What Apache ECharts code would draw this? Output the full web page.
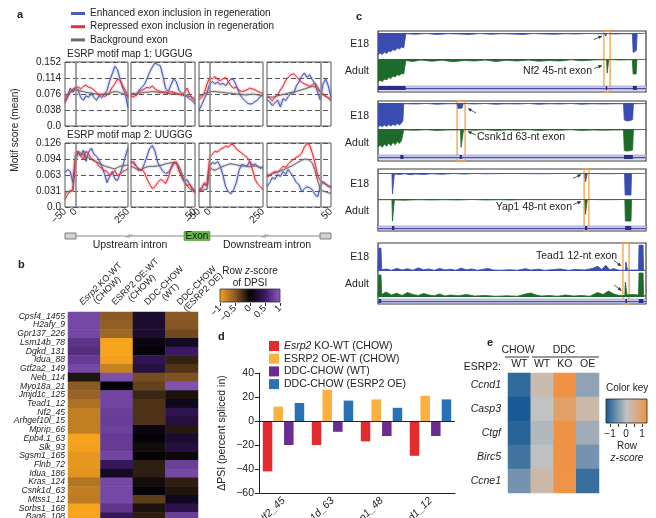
<!DOCTYPE html>
<html><head><meta charset="utf-8">
<script src="https://cdn.jsdelivr.net/npm/echarts@6/dist/echarts.min.js"></script>
<style>html,body{margin:0;padding:0;background:#fff}#c{width:656px;height:518px}</style>
</head><body><div id="c"></div>
<script>
// ================= DATA =================
// ---- panel a: motif maps (sampled positions, nt) ----
const posA = [-50,-37.5,-25,-12.5,0,12.5,25,37.5,50,62.5,75,87.5,100,112.5,125,137.5,150,162.5,175,187.5,200,212.5,225,237.5,250];
const posB = [-250,-237.5,-225,-212.5,-200,-187.5,-175,-162.5,-150,-137.5,-125,-112.5,-100,-87.5,-75,-62.5,-50,-37.5,-25,-12.5,0,12.5,25,37.5,50];
const aNames = ['Enhanced exon inclusion in regeneration','Repressed exon inclusion in regeneration','Background exon'];
// map 1 (UGGUG)
const m1p1Blue = [0.061,0.072,0.090,0.080,0.093,0.084,0.068,0.061,0.072,0.068,0.078,0.068,0.061,0.072,0.067,0.076,0.085,0.107,0.124,0.142,0.134,0.111,0.090,0.076,0.043];
const m1p1Red  = [0.055,0.068,0.080,0.088,0.090,0.093,0.088,0.094,0.097,0.092,0.090,0.086,0.080,0.072,0.075,0.070,0.073,0.080,0.092,0.100,0.112,0.108,0.095,0.085,0.070];
const m1p1Gray = [0.070,0.075,0.080,0.084,0.086,0.085,0.083,0.082,0.080,0.079,0.078,0.077,0.076,0.076,0.075,0.076,0.077,0.078,0.080,0.082,0.081,0.079,0.077,0.074,0.070];
const m1p2Blue = [0.075,0.078,0.072,0.085,0.092,0.098,0.112,0.128,0.140,0.150,0.146,0.143,0.118,0.088,0.082,0.098,0.112,0.105,0.085,0.077,0.072,0.070,0.064,0.060,0.052];
const m1p2Red  = [0.072,0.068,0.076,0.082,0.085,0.088,0.092,0.090,0.095,0.088,0.084,0.082,0.080,0.081,0.079,0.082,0.080,0.078,0.076,0.074,0.080,0.090,0.075,0.065,0.058];
const m1p2Gray = [0.076,0.075,0.077,0.078,0.079,0.080,0.080,0.081,0.082,0.081,0.080,0.079,0.080,0.078,0.077,0.076,0.077,0.076,0.075,0.074,0.073,0.072,0.070,0.068,0.064];
const m1p3Blue = [0.038,0.050,0.065,0.078,0.100,0.106,0.100,0.104,0.098,0.102,0.095,0.105,0.112,0.110,0.096,0.080,0.068,0.062,0.055,0.052,0.053,0.058,0.062,0.070,0.074];
const m1p3Red  = [0.062,0.068,0.078,0.100,0.115,0.112,0.118,0.110,0.108,0.112,0.115,0.105,0.095,0.090,0.092,0.085,0.082,0.083,0.086,0.090,0.088,0.086,0.082,0.080,0.076];
const m1p3Gray = [0.070,0.073,0.076,0.079,0.081,0.082,0.082,0.081,0.080,0.080,0.079,0.078,0.078,0.077,0.076,0.075,0.075,0.074,0.074,0.075,0.076,0.075,0.074,0.073,0.072];
const m1p4Blue = [0.062,0.058,0.048,0.055,0.062,0.045,0.065,0.060,0.070,0.080,0.078,0.095,0.105,0.118,0.126,0.115,0.122,0.110,0.100,0.080,0.062,0.100,0.112,0.095,0.068];
const m1p4Red  = [0.070,0.066,0.060,0.068,0.075,0.085,0.095,0.108,0.116,0.122,0.124,0.118,0.110,0.104,0.100,0.098,0.094,0.098,0.102,0.092,0.082,0.076,0.072,0.066,0.060];
const m1p4Gray = [0.070,0.069,0.068,0.070,0.072,0.073,0.075,0.076,0.078,0.079,0.080,0.082,0.084,0.086,0.088,0.090,0.092,0.094,0.093,0.088,0.080,0.074,0.070,0.067,0.064];
// map 2 (UUGGG)
const m2p1Blue = [0.068,0.074,0.070,0.048,0.092,0.108,0.100,0.112,0.090,0.108,0.116,0.104,0.100,0.092,0.080,0.066,0.048,0.060,0.070,0.055,0.052,0.066,0.080,0.100,0.116];
const m2p1Red  = [0.015,0.025,0.030,0.032,0.095,0.108,0.100,0.094,0.110,0.104,0.096,0.092,0.088,0.080,0.076,0.072,0.070,0.062,0.066,0.072,0.062,0.064,0.070,0.072,0.076];
const m2p1Gray = [0.025,0.030,0.032,0.034,0.108,0.110,0.106,0.102,0.100,0.097,0.094,0.091,0.089,0.086,0.083,0.081,0.079,0.078,0.076,0.075,0.078,0.080,0.081,0.082,0.083];
const m2p2Blue = [0.090,0.085,0.080,0.075,0.072,0.085,0.100,0.115,0.121,0.110,0.088,0.078,0.070,0.066,0.068,0.075,0.085,0.088,0.072,0.060,0.050,0.054,0.045,0.038,0.030];
const m2p2Red  = [0.086,0.090,0.080,0.072,0.074,0.068,0.055,0.045,0.036,0.040,0.048,0.054,0.052,0.046,0.058,0.078,0.088,0.088,0.072,0.060,0.050,0.042,0.045,0.034,0.028];
const m2p2Gray = [0.080,0.078,0.075,0.072,0.074,0.077,0.079,0.080,0.080,0.080,0.081,0.082,0.083,0.085,0.086,0.087,0.088,0.087,0.080,0.068,0.050,0.042,0.036,0.032,0.030];
const m2p3Blue = [0.034,0.038,0.045,0.042,0.080,0.088,0.085,0.090,0.080,0.062,0.040,0.030,0.026,0.034,0.048,0.072,0.084,0.082,0.080,0.090,0.082,0.085,0.080,0.076,0.080];
const m2p3Red  = [0.030,0.036,0.048,0.042,0.098,0.104,0.110,0.108,0.114,0.116,0.120,0.118,0.124,0.122,0.114,0.110,0.106,0.102,0.098,0.090,0.075,0.055,0.045,0.040,0.034];
const m2p3Gray = [0.032,0.033,0.034,0.035,0.078,0.074,0.072,0.075,0.078,0.080,0.082,0.084,0.085,0.084,0.083,0.082,0.080,0.081,0.080,0.079,0.080,0.081,0.080,0.078,0.076];
const m2p4Blue = [0.040,0.048,0.058,0.055,0.064,0.060,0.070,0.064,0.074,0.066,0.058,0.048,0.044,0.030,0.036,0.040,0.038,0.034,0.024,0.020,0.040,0.050,0.046,0.042,0.040];
const m2p4Red  = [0.058,0.062,0.066,0.070,0.068,0.074,0.080,0.078,0.085,0.090,0.094,0.098,0.100,0.106,0.118,0.125,0.122,0.106,0.086,0.062,0.052,0.048,0.044,0.040,0.038];
const m2p4Gray = [0.062,0.064,0.066,0.067,0.069,0.071,0.073,0.075,0.078,0.080,0.083,0.086,0.089,0.092,0.094,0.094,0.092,0.086,0.072,0.052,0.036,0.031,0.030,0.028,0.027];
const aYLabels1 = ['0.0','0.038','0.076','0.114','0.152'];
const aYLabels2 = ['0.0','0.031','0.063','0.094','0.126'];

// ---- panel b: row z-score of DPSI ----
const bRows = ['Cpsf4_1455','H2afy_9','Gpr137_226','Lsm14b_78','Dgkd_131','Idua_88','Gtf2a2_149','Neb_114','Myo18a_21','Jmjd1c_125','Tead1_12','Nf2_45','Arhgef10l_15','Mprip_66','Epb4.1_63','Slk_93','Sgsm1_165','Flnb_72','Idua_186','Kras_124','Csnk1d_63','Mtss1_12','Sorbs1_168','Bag6_108'];
const bCols = ['Esrp2 KO-WT\n(CHOW)','ESRP2 OE-WT\n(CHOW)','DDC-CHOW\n(WT)','DDC-CHOW\n(ESRP2 OE)'];
const bKO    = [0.85,0.85,0.85,0.7,0.65,0.75,0.85,-0.1,-0.5,-0.55,-0.65,-0.75,-0.75,-0.75,-1,-0.98,-0.92,-0.92,-0.9,-0.68,-0.75,-0.73,-1,-1];
const bOE    = [-0.5,-0.53,-0.58,-1,-1,-0.98,-0.77,0.9,0,0.83,0.83,0.78,0.77,0.8,0.75,0.75,0.83,0.45,0.15,0.85,0.85,0.85,0.72,0.45];
const bDdcWT = [0.22,0.22,0.22,0.05,0,0.4,0.3,-0.42,-0.35,-0.2,-0.28,-0.27,-0.27,0.05,0,-0.05,0,-0.15,-0.15,-0.05,0,-0.33,-0.08,-0.15];
const bDdcOE = [-0.5,-0.47,-0.4,0.15,0.5,-0.17,-0.28,-0.45,0.92,-0.08,0.1,0.38,0.3,-0.12,0.2,0.28,-0.03,0.78,0.85,-0.15,-0.1,0.12,0.35,0.78];

// ---- panel c: coverage tracks ([position %, coverage %]) ----
const c1E18 = [[0,88],[0.8,80],[1.6,86],[2.4,76],[3.2,82],[4,72],[4.8,75],[5.6,66],[6.4,70],[7.2,60],[8,64],[8.8,56],[9.6,60],[10.1,55],[10.4,3],[14,5],[18,2],[22,6],[26,3],[30,4],[34,6],[38,2],[42,5],[46,3],[50,4],[54,6],[58,2],[62,4],[66,5],[70,3],[74,4],[78,2],[82,3],[84.6,3],[85,12],[85.4,2],[88,4],[92,3],[94.9,3],[95.2,78],[95.8,82],[96.4,70],[96.7,2],[100,1]];
const c1Adult = [[0,92],[0.8,85],[1.6,90],[2.4,80],[3.2,84],[4,74],[4.8,78],[5.6,68],[6.4,72],[7.2,62],[8,66],[8.8,58],[9.6,60],[10.1,52],[10.4,6],[13,10],[16,4],[20,9],[24,5],[28,11],[32,6],[36,8],[40,4],[44,10],[48,5],[52,8],[56,4],[60,9],[64,6],[68,8],[72,3],[76,7],[80,4],[84,3],[85.3,3],[85.5,56],[85.9,56],[86.1,2],[90,4],[94.9,3],[95.2,60],[96.3,60],[96.6,2],[100,2]];
const c2E18 = [[0,96],[0.8,90],[1.6,95],[2.4,88],[3.2,94],[4,86],[4.8,92],[5.6,85],[6.4,90],[7.2,82],[8,88],[8.8,80],[9.3,70],[9.6,3],[14,4],[18,2],[22,5],[26,3],[29.6,3],[29.9,22],[30.6,28],[31.4,20],[31.8,2],[36,4],[40,2],[44,5],[48,3],[52,4],[56,2],[60,5],[64,3],[68,4],[72,2],[76,5],[80,3],[84,4],[88,3],[91.6,3],[91.9,68],[93,72],[94.2,70],[95,66],[95.3,3],[100,2]];
const c2Adult = [[0,74],[0.8,68],[1.6,76],[2.4,62],[3.2,72],[4,58],[4.8,70],[5.6,55],[6.4,66],[7.2,52],[8,60],[8.8,48],[9.3,40],[9.6,4],[14,5],[18,3],[22,6],[26,4],[30.8,4],[31,76],[31.6,76],[31.9,3],[36,5],[40,3],[44,6],[48,4],[52,5],[56,3],[60,6],[64,4],[68,5],[72,3],[76,6],[80,4],[84,5],[88,4],[91.6,4],[91.9,90],[93,92],[94.2,90],[95,88],[95.3,3],[100,2]];
const c3E18 = [[0,2],[5.2,2],[5.4,84],[5.9,84],[6.1,4],[8,6],[10,3],[12,7],[14,4],[17,6],[20,3],[24,5],[28,2],[32,4],[36,2],[40,3],[50,2],[60,3],[70,2],[77.2,2],[77.4,36],[77.9,36],[78.1,2],[85,3],[92,2],[92.2,88],[94.4,88],[94.6,2],[100,1]];
const c3Adult = [[0,3],[5.2,3],[5.4,92],[5.9,92],[6.1,4],[10,5],[15,3],[20,4],[25,3],[30,4],[35,2],[40,4],[45,3],[50,4],[55,2],[60,3],[65,2],[70,3],[77.2,2],[77.4,64],[77.9,64],[78.1,2],[85,3],[92.1,2],[92.3,92],[94.4,92],[94.6,2],[100,2]];
const c4E18 = [[0,2],[0.3,88],[1.1,88],[1.4,4],[3,8],[5,3],[7,10],[9,4],[11,9],[13,3],[15,12],[17,5],[19,8],[21,3],[23,10],[25,4],[27,7],[29,3],[31,11],[33,5],[35,8],[37,3],[39,6],[41,10],[43,4],[46,3],[49,5],[52,3],[55,9],[57,4],[60,7],[62,3],[65,5],[68,8],[71,3],[74,6],[77,4],[80,10],[82,18],[83.5,6],[85,22],[86.5,5],[88,9],[90,3],[92.3,3],[92.5,35],[92.9,35],[93.1,3],[95,4],[97.2,4],[97.4,100],[98.9,100],[99.1,3],[100,3]];
const c4Adult = [[0,4],[0.3,88],[1.1,88],[1.4,10],[3,20],[5,8],[7,15],[9,6],[11,18],[13,10],[15,6],[17,14],[19,8],[21,5],[23,12],[25,4],[27,8],[30,5],[33,10],[36,4],[40,6],[44,3],[48,5],[52,3],[55,12],[57,16],[59,8],[61,4],[64,6],[67,3],[70,8],[73,4],[76,6],[79,3],[82,18],[84,10],[86,24],[88,12],[90,6],[92.1,6],[92.3,60],[92.7,60],[92.9,8],[95,10],[97.2,8],[97.4,96],[98.9,96],[99.1,5],[100,5]];
const c1Exons = [[0,10.3],[85,85.5],[95.1,96.6]];
const c2Exons = [[8.3,9.5],[30.5,31.3],[91.8,95.1]];
const c3Exons = [[5.2,6.1],[77.2,78.1],[92.2,94.5]];
const c4Exons = [[0.2,1.2],[92.3,92.9],[97.3,99]];
const cMarks = [[84.3,86.6],[29.5,32.5],[76.9,78.7],[91.4,93.7]];
const cExonNames = ['Nf2 45-nt exon','Csnk1d 63-nt exon','Yap1 48-nt exon','Tead1 12-nt exon'];

// ---- panel d: delta PSI ----
const dCats = ['Nf2_45','Csnk1d_63','Yap1_48','Tead1_12'];
const dNames = ['Esrp2 KO-WT (CHOW)','ESRP2 OE-WT (CHOW)','DDC-CHOW (WT)','DDC-CHOW (ESRP2 OE)'];
const dKO    = [-42,-20,-17,-29];
const dOE    = [12,26,18,21];
const dDdcWT = [-20,-9,-12.5,-12.5];
const dDdcOE = [15,17,11,18];

// ---- panel e: row z-score ----
const eRows = ['Ccnd1','Casp3','Ctgf','Birc5','Ccne1'];
const eCols = ['WT','WT','KO','OE'];
const eChowWT = [-0.85,-1,-0.9,-0.75,-0.45];
const eDdcWT  = [0.15,0,-0.1,-0.02,0.2];
const eDdcKO  = [1,0.7,1,1,0.95];
const eDdcOE  = [-0.3,0.2,-0.2,-0.45,-0.8];

// ================= BUILD =================
const FONT = "'Liberation Sans', Arial, sans-serif";
const grids=[], xAxes=[], yAxes=[], series=[];
function addGrid(g, xa, ya){
  grids.push(Object.assign({containLabel:false, outerBoundsMode:'none'}, g));
  const i = grids.length-1;
  xAxes.push(Object.assign({gridIndex:i}, xa));
  yAxes.push(Object.assign({gridIndex:i}, ya));
  return i;
}
const minus = v => v<0 ? '\u2212'+Math.abs(v) : String(v);
const HID = {type:'value', show:false};

// ---- panel a ----
const aColors = ['#4b5bb9','#e5323a','#6c6c6c'];
const aPanels = [
  {row:0,col:0,pos:posA,d:[m1p1Blue,m1p1Red,m1p1Gray]},
  {row:0,col:1,pos:posB,d:[m1p2Blue,m1p2Red,m1p2Gray]},
  {row:0,col:2,pos:posA,d:[m1p3Blue,m1p3Red,m1p3Gray]},
  {row:0,col:3,pos:posB,d:[m1p4Blue,m1p4Red,m1p4Gray]},
  {row:1,col:0,pos:posA,d:[m2p1Blue,m2p1Red,m2p1Gray]},
  {row:1,col:1,pos:posB,d:[m2p2Blue,m2p2Red,m2p2Gray]},
  {row:1,col:2,pos:posA,d:[m2p3Blue,m2p3Red,m2p3Gray]},
  {row:1,col:3,pos:posB,d:[m2p4Blue,m2p4Red,m2p4Gray]}
];
const aLeft=[65,131,199,267], aWidth=[63,64,64,64], aTop=[62,143];
const aYMax=[0.152,0.126], aYStep=[0.038,0.0315], aYLab=[aYLabels1,aYLabels2];
aPanels.forEach(p=>{
  const shown = p.pos[0]===-50 ? [-50,0,250] : [0,50];
  const gi = addGrid({left:aLeft[p.col], top:aTop[p.row], width:aWidth[p.col], height:64, show:true, borderColor:'#555', borderWidth:1},
    {type:'value', min:p.pos[0], max:p.pos[p.pos.length-1], interval:50,
     axisLine:{show:false,onZero:false}, axisTick:{show:false}, splitLine:{show:false},
     axisLabel:{show:p.row===1, rotate:45, fontSize:10, margin:3, color:'#222', showMinLabel:true, showMaxLabel:true,
       formatter:v=> shown.indexOf(v)>=0 ? minus(v) : ''}},
    {type:'value', min:0, max:aYMax[p.row], interval:aYStep[p.row],
     axisLine:{show:false,onZero:false}, axisTick:{show:false},
     axisLabel:{show:p.col===0, fontSize:10, color:'#222', margin:4, formatter:v=>aYLab[p.row][Math.round(v/aYStep[p.row])]},
     splitLine:{show:true, lineStyle:{type:[5,3], color:'#555', width:1}}});
  p.d.forEach((arr,k)=>{
    const s = {type:'line', name:aNames[k], xAxisIndex:gi, yAxisIndex:gi, silent:true,
      data:p.pos.map((x,i)=>[x,arr[i]]), symbol:'none', showSymbol:false,
      lineStyle:{width:1, color:aColors[k], shadowColor:aColors[k], shadowBlur:2},
      itemStyle:{color:aColors[k]}, z:3+(k===2?0:k)};
    if(k===2){ s.markLine = {silent:true, symbol:['none','none'], label:{show:false},
      lineStyle:{color:'#8a8a8a', width:1.6, type:'solid'}, data:[{xAxis:0}]}; }
    series.push(s);
  });
});

// ---- panel b ----
const bi = addGrid({left:68, top:312, width:130, height:209.3},
  {type:'category', position:'top', data:bCols, axisLine:{show:false}, axisTick:{show:false},
   axisLabel:{rotate:-45, interval:0, margin:5, color:'#222',
     formatter:v=>{ if(v.indexOf('Esrp2')===0){ return '{i|Esrp2}{n| KO-WT}\n{n|(CHOW)}'; }
                    return v.split('\n').map(s=>'{n|'+s+'}').join('\n'); },
     rich:{i:{fontStyle:'italic',fontSize:9,align:'center',color:'#222'}, n:{fontSize:9,align:'center',color:'#222'}}}},
  {type:'category', inverse:true, data:bRows, axisLine:{show:false}, axisTick:{show:false},
   axisLabel:{interval:0, fontSize:8.6, fontStyle:'italic', margin:3, color:'#222'}});
const bData=[];
[bKO,bOE,bDdcWT,bDdcOE].forEach((col,c)=>col.forEach((v,r)=>bData.push([c,r,v])));
const bIdx = series.length;
series.push({type:'heatmap', xAxisIndex:bi, yAxisIndex:bi, data:bData, silent:true, itemStyle:{borderWidth:0}});
// colorbar ticks b
const bcb = addGrid({left:220, top:302, width:60, height:1},
  {type:'value', min:-1, max:1, interval:0.5, axisLine:{show:false,onZero:false}, splitLine:{show:false},
   axisTick:{show:true, length:3, lineStyle:{color:'#333'}},
   axisLabel:{rotate:45, fontSize:9.5, margin:4, color:'#222', showMinLabel:true, showMaxLabel:true, formatter:minus}}, HID);
series.push({type:'scatter', xAxisIndex:bcb, yAxisIndex:bcb, data:[]});

// ---- panel c ----
const cBoxes = [
  {frame:[31,61], e18:[33,25], adult:[59,25], gene:[86,4], up:false, e:c1E18, a:c1Adult, ex:c1Exons},
  {frame:[101,60], e18:[103,25], adult:[129,24], gene:[155,4], up:false, e:c2E18, a:c2Adult, ex:c2Exons},
  {frame:[169,62], e18:[173,25], adult:[199,24], gene:[226,4], up:false, e:c3E18, a:c3Adult, ex:c3Exons},
  {frame:[243,61], e18:[245,26], adult:[272,25], gene:[299,4], up:true, e:c4E18, a:c4Adult, ex:c4Exons}
];
const cBlue='#3a4cb0', cGreen='#1e6a2b', cNavy='#2b2f86';
cBoxes.forEach((b,k)=>{
  const fi = addGrid({left:378, width:268, top:b.frame[0], height:b.frame[1], show:true, borderColor:'#3a3a3a', borderWidth:1.2},
    {type:'value',min:0,max:100,show:false}, {type:'value',min:0,max:1,show:false});
  series.push({type:'line', xAxisIndex:fi, yAxisIndex:fi, data:[[50,0.5]], symbol:'none', lineStyle:{opacity:0}, z:10, silent:true,
    markArea:{silent:true, itemStyle:{color:'rgba(0,0,0,0)', borderColor:'#f4a142', borderWidth:1.3},
      data:[[{xAxis:cMarks[k][0]},{xAxis:cMarks[k][1]}]]}});
  [[b.e18,b.e,cBlue],[b.adult,b.a,cGreen]].forEach(([geo,dat,col])=>{
    const ti = addGrid({left:378, width:268, top:geo[0], height:geo[1]},
      {type:'value',min:0,max:100,show:false}, {type:'value',min:0,max:100,inverse:!b.up,show:false});
    series.push({type:'line', xAxisIndex:ti, yAxisIndex:ti, data:dat, symbol:'none', silent:true,
      lineStyle:{width:0.8,color:col}, areaStyle:{color:col,opacity:1}, z:2});
  });
  const gi2 = addGrid({left:378, width:268, top:b.gene[0], height:b.gene[1]},
    {type:'value',min:0,max:100,show:false}, {type:'value',min:0,max:1,show:false});
  series.push({type:'line', xAxisIndex:gi2, yAxisIndex:gi2, data:[[50,0.5]], symbol:'none', lineStyle:{opacity:0}, z:3, silent:true,
    markArea:{silent:true, data:[[{xAxis:0, itemStyle:{color:'#c9cbea', borderColor:'#8b8fcc', borderWidth:0.6}},{xAxis:100}]]
      .concat(b.ex.map(e=>[{xAxis:e[0], itemStyle:{color:cNavy}},{xAxis:e[1]}]))},
    markLine:{silent:true, symbol:['none','none'], label:{show:false}, lineStyle:{color:cNavy,width:0.8,type:'solid'}, data:[{yAxis:0.5}]}});
});

// ---- panel d ----
const di = addGrid({left:259, top:373, width:196, height:120},
  {type:'category', data:dCats, axisLine:{onZero:false, lineStyle:{color:'#222'}},
   axisTick:{alignWithLabel:true, length:4, lineStyle:{color:'#222'}},
   axisLabel:{rotate:45, interval:0, fontSize:10.5, fontStyle:'italic', color:'#222', margin:6}},
  {type:'value', min:-60, max:40, interval:20, axisLine:{show:true, onZero:false, lineStyle:{color:'#222'}},
   axisTick:{show:true, length:4, lineStyle:{color:'#222'}}, splitLine:{show:false},
   axisLabel:{fontSize:10.5, color:'#222', margin:5, formatter:minus},
   name:'\u0394PSI (percent spliced in)', nameLocation:'middle', nameGap:31, nameTextStyle:{fontSize:10.5, color:'#222'}});
const dColors = ['#e32b2e','#fbb040','#6b2b90','#2a72b6'];
[dKO,dOE,dDdcWT,dDdcOE].forEach((arr,k)=>{
  const s = {type:'bar', name:dNames[k], xAxisIndex:di, yAxisIndex:di, data:arr, barWidth:9.5, barGap:'12%', silent:true,
    itemStyle:{color:dColors[k]}};
  if(k===0){ s.markLine = {silent:true, symbol:['none','none'], label:{show:false}, lineStyle:{color:'#222',width:1,type:'solid'}, data:[{yAxis:0}]}; }
  series.push(s);
});

// ---- panel e ----
const ei = addGrid({left:508, top:373, width:91, height:120},
  {type:'category', position:'top', data:eCols, axisLine:{show:false}, axisTick:{show:false},
   axisLabel:{fontSize:10.5, color:'#222', margin:3, interval:0}},
  {type:'category', inverse:true, data:eRows, axisLine:{show:false}, axisTick:{show:false},
   axisLabel:{fontSize:10.5, fontStyle:'italic', color:'#222', margin:7, interval:0}});
const eData=[];
[eChowWT,eDdcWT,eDdcKO,eDdcOE].forEach((col,c)=>col.forEach((v,r)=>eData.push([c,r,v])));
const eIdx = series.length;
series.push({type:'heatmap', xAxisIndex:ei, yAxisIndex:ei, data:eData, silent:true, itemStyle:{borderWidth:0}});
const ecb = addGrid({left:610, top:423, width:32, height:1},
  {type:'value', min:-1, max:1, interval:0.5, axisLine:{show:false,onZero:false}, splitLine:{show:false},
   axisTick:{show:true, length:3, lineStyle:{color:'#333'}},
   axisLabel:{fontSize:10, margin:5, color:'#222', showMinLabel:true, showMaxLabel:true,
     formatter:v=> Number.isInteger(v) ? minus(v) : ''}}, HID);
series.push({type:'scatter', xAxisIndex:ecb, yAxisIndex:ecb, data:[]});

// ---- colours ----
const bColors = ['#f6a31e','#8c5b25','#050308','#3c1965','#8d5cc0'];
const eColors = ['#175a95','#c2c2c2','#ef9243'];

// ---- graphic annotations ----
function T(x,y,text,o){
  o=o||{};
  const font = (o.italic?'italic ':'')+(o.bold?'bold ':'')+(o.size||10)+'px '+FONT;
  const st = {text:text, font:font, fill:o.fill||'#222', align:o.align||'left', textAlign:o.align||'left', verticalAlign:'middle', textVerticalAlign:'middle'};
  if(o.rich) st.rich=o.rich;
  return {type:'text', x:x, y:y, rotation:o.rot||0, z:100, silent:true, style:st};
}
function L(x1,y1,x2,y2,c,w){ return {type:'line', shape:{x1,y1,x2,y2}, style:{stroke:c||'#333', lineWidth:w||1}, z:100, silent:true}; }
function R(x,y,w,h,fill,stroke,lw){ return {type:'rect', shape:{x,y,width:w,height:h}, style:{fill:fill, stroke:stroke||null, lineWidth:lw||0}, z:100, silent:true}; }
function arrow(x1,y1,x2,y2){
  const a=Math.atan2(y2-y1,x2-x1), l=3.5, w=1.8;
  const pts=[[x2,y2],[x2-l*Math.cos(a)+w*Math.sin(a), y2-l*Math.sin(a)-w*Math.cos(a)],[x2-l*Math.cos(a)-w*Math.sin(a), y2-l*Math.sin(a)+w*Math.cos(a)]];
  return [L(x1,y1,x2,y2,'#333',0.8), {type:'polygon', shape:{points:pts}, style:{fill:'#333'}, z:100, silent:true}];
}
const grad = (stops)=> new echarts.graphic.LinearGradient(0,0,1,0, stops.map((c,i)=>({offset:i/(stops.length-1), color:c})));
let g = [];
// panel letters
g.push(T(17,15,'a',{bold:true,size:11}), T(18,265,'b',{bold:true,size:11}), T(356,17,'c',{bold:true,size:11}),
       T(218,337,'d',{bold:true,size:11}), T(487,343,'e',{bold:true,size:11}));
// panel a text
g.push(T(67,54,'ESRP motif map 1: UGGUG',{size:10}), T(67,135.5,'ESRP motif map 2: UUGGG',{size:10}));
g.push(T(15,130,'Motif score (mean)',{size:10, align:'center', rot:Math.PI/2}));
// schematic
g.push(L(65,236,331,236,'#8a8a8a',1));
g.push(R(65,233,11,6,'#d2d2d2','#666',0.8), R(320,233,11,6,'#d2d2d2','#666',0.8));
g.push(R(184,231.5,26,9,'#63b946','#4a8a34',0.6), T(197,236,'Exon',{size:10, align:'center', fill:'#111'}));
g.push(L(126,238,130,234,'#777',0.8), L(128.5,238,132.5,234,'#777',0.8), L(262,238,266,234,'#777',0.8), L(264.5,238,268.5,234,'#777',0.8));
g.push(T(130,245.5,'Upstream intron',{size:10.5, align:'center'}), T(267,245.5,'Downstream intron',{size:10.5, align:'center'}));
// panel b colour key
g.push(T(250,271,'Row {i|z}-score',{size:10, align:'center', rich:{i:{fontStyle:'italic', fontSize:10, fill:'#222', fontFamily:FONT}}}), T(250,283,'of DPSI',{size:10, align:'center'}));
g.push(R(220,289,60,13,grad(bColors),'#333',0.8));
// panel c labels
const cLab = [[44,71],[116,143],[184,211],[257,284]];
cLab.forEach(p=>{ g.push(T(369,p[0],'E18',{size:10.5, align:'right'}), T(369,p[1],'Adult',{size:10.5, align:'right'})); });
g.push(T(592,71,cExonNames[0],{size:10.5, align:'right'}));
g = g.concat(arrow(594,68.5,602,65.5), arrow(594,39.5,602,36));
g.push(T(477,137.5,cExonNames[1],{size:10.5, align:'left'}));
g = g.concat(arrow(476,135,468,131.5), arrow(476,113,468,108.5));
g.push(T(572,207,cExonNames[2],{size:10.5, align:'right'}));
g = g.concat(arrow(573,204.5,581,201.5), arrow(573,178.5,581,174.5));
g.push(T(536,256,cExonNames[3],{size:10.5, align:'left'}));
g = g.concat(arrow(614,260.5,621,266), arrow(614,285,621.5,290.5));
// panel e header + key
g.push(T(501,367,'ESRP2:',{size:10.5, align:'right'}));
g.push(T(518,350,'CHOW',{size:10.5, align:'center'}), T(564,350,'DDC',{size:10.5, align:'center'}));
g.push(L(505,357,529,357,'#777',1.5), L(532,357,599,357,'#777',1.5));
g.push(T(606,388,'Color key',{size:10}));
g.push(R(606,399,41,24,grad(eColors),'#222',0.8));
g.push(T(627,446,'Row',{size:10, align:'center'}), T(627,458,'z-score',{size:10, align:'center', italic:true}));

const option = {
  animation:false,
  backgroundColor:'#fff',
  textStyle:{fontFamily:FONT},
  grid:grids, xAxis:xAxes, yAxis:yAxes, series:series,
  legend:[
    {left:66, top:2.5, orient:'vertical', icon:'rect', itemWidth:14, itemHeight:3, itemGap:1.2, selectedMode:false,
     data:aNames, textStyle:{fontSize:10, color:'#222', lineHeight:12}},
    {left:264, top:335.5, orient:'vertical', icon:'rect', itemWidth:10, itemHeight:10, itemGap:1.7, selectedMode:false,
     data:dNames, textStyle:{fontSize:10.5, color:'#222', lineHeight:11, rich:{i:{fontStyle:'italic', fontSize:10.5, color:'#222'}}},
     formatter:n=> n.indexOf('Esrp2')===0 ? '{i|Esrp2}'+n.slice(5) : n}
  ],
  visualMap:[
    {type:'continuous', min:-1, max:1, seriesIndex:bIdx, show:false, inRange:{color:bColors}},
    {type:'continuous', min:-1, max:1, seriesIndex:eIdx, show:false, inRange:{color:eColors}}
  ],
  graphic:g
};
const chart = echarts.init(document.getElementById('c'), null, {renderer:'canvas'});
chart.setOption(option);
</script>
</body></html>
